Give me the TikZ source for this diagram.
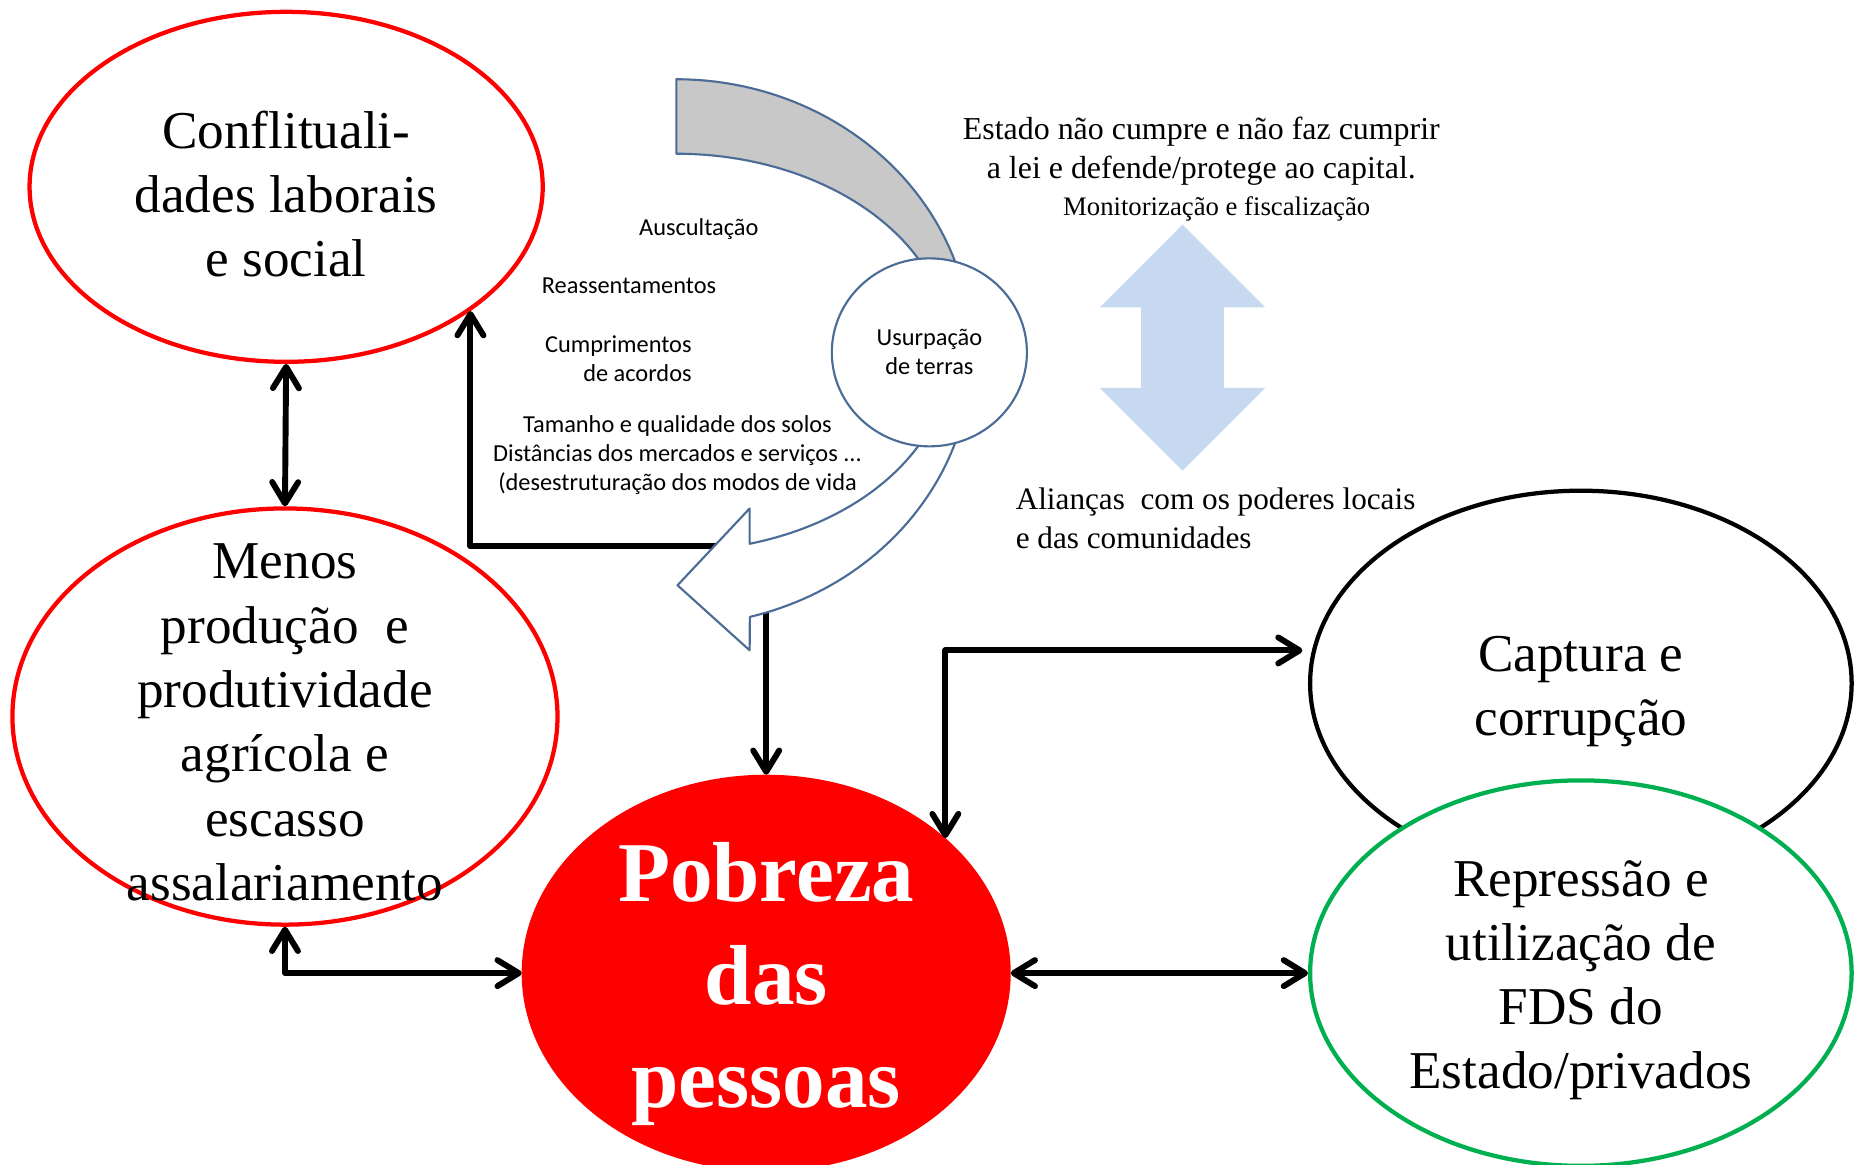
\documentclass[tikz,border=0pt]{standalone}
\usepackage{fontspec}
\setmainfont{Liberation Serif}
\newfontfamily\calibri{Carlito}
\usetikzlibrary{shapes.geometric,arrows.meta}
\definecolor{pptred}{HTML}{FF0000}
\definecolor{pptgreen}{HTML}{00B050}
\definecolor{bluegray}{HTML}{4A6C96}
\definecolor{graybody}{HTML}{C8C8C8}
\definecolor{lightblue}{HTML}{C6D9F1}
\begin{document}
\begin{tikzpicture}[x=0.5pt,y=-0.5pt,
  ell/.style={ellipse, line width=1.8pt, inner sep=0pt},
  bigtxt/.style={align=center, font=\fontsize{22.5}{27.2}\selectfont},
  smalltxt/.style={align=center, font=\calibri\fontsize{10.3}{12.3}\selectfont},
  serifmid/.style={align=center, font=\fontsize{13.5}{16.5}\selectfont},
  conn/.style={line width=2.5pt, black, line join=round},
  onehead/.style={conn, -{Straight Barb[length=9pt,width=11pt,round]}},
  twohead/.style={conn, {Straight Barb[length=9pt,width=11pt,round]}-{Straight Barb[length=9pt,width=11pt,round]}},
  bandline/.style={draw=bluegray, line width=0.9pt, line join=round}
]
\useasboundingbox (0,0) rectangle (1568,985);

% main ellipses
\node[ell, draw=pptred, minimum width=217pt, minimum height=148pt] (c1) at (242,158) {};
\node[bigtxt] (t1) at (242,164) {Conflituali-\\dades laborais\\e social};

\node[ell, draw=pptred, minimum width=230.5pt, minimum height=176pt] (c2) at (241,606) {};
\node[bigtxt] (t2) at (241,611) {Menos\\produção\ \ e\\produtividade\\agrícola e\\escasso\\assalariamento};

\node[ell, draw=pptred, fill=pptred, minimum width=205pt, minimum height=166pt] (pob) at (648,823) {};
\node[align=center, text=white, font=\bfseries\fontsize{36}{43.5}\selectfont] (tp) at (648,832) {Pobreza\\das\\pessoas};

\node[ell, draw=black, minimum width=229pt, minimum height=163pt] (cap) at (1337,578) {};
\node[bigtxt] (tc) at (1337,585) {Captura e\\corrupção};

\node[ell, draw=pptgreen, fill=white, minimum width=229pt, minimum height=163pt] (rep) at (1337,823) {};
\node[bigtxt] (tr) at (1337,829) {Repressão e\\utilização de\\FDS do\\Estado/privados};

% connectors
\coordinate (wa) at (620,462);
\coordinate (wb) at (648,505);
\draw[onehead] (wa) -| (c1.-34);
\draw[onehead] (wb) -- (pob.north);
\draw[twohead] (c1.south) -- (c2.north);
\draw[twohead] (c2.south) |- (pob.west);
\draw[twohead, shorten >=4pt] (pob.37) |- (cap.173);
\draw[twohead] (pob.east) -- (rep.west);

% gray curved band (upper part)
\path[bandline, fill=graybody]
  plot[domain=-90:-15, samples=40] ({572+250*cos(\x)},{298+231*sin(\x)})
  -- plot[domain=-15:-90, samples=40] ({572+232*cos(\x)},{298+168*sin(\x)})
  -- cycle;
% white curved arrow (lower part)
\path[bandline, fill=white]
  plot[domain=15:75.6, samples=40] ({572+250*cos(\x)},{298+231*sin(\x)})
  -- (634,550) -- (573,495) -- (634,430)
  -- plot[domain=74.5:15, samples=40] ({572+232*cos(\x)},{298+168*sin(\x)})
  -- cycle;

\node[ellipse, draw=bluegray, fill=white, line width=0.9pt, inner sep=0pt,
      minimum width=82.5pt, minimum height=79.5pt, smalltxt] (usu) at (786,298) {Usurpação\\de terras};

% small labels
\node[smalltxt] (l1) at (591,194) {Auscultação};
\node[smalltxt] (l2) at (532,242) {Reassentamentos};
\node[smalltxt, align=right, anchor=east] (l3) at (592,303) {Cumprimentos\\de acordos};
\node[smalltxt] (l4) at (573,385) {Tamanho e qualidade dos solos\\Distâncias dos mercados e serviços ...\\(desestruturação dos modos de vida};

% blue double arrow
\fill[lightblue] (1000,190) -- (1070,260) -- (1035,260) -- (1035,328) -- (1070,328)
  -- (1000,398) -- (930,328) -- (965,328) -- (965,260) -- (930,260) -- cycle;

% serif texts
\node[serifmid] (st1) at (1016,128) {Estado não cumpre e não faz cumprir\\a lei e defende/protege ao capital.};
\node[align=center, font=\fontsize{11.3}{13}\selectfont] (st2) at (1029,177) {Monitorização e fiscalização};
\node[align=left, anchor=west, font=\fontsize{13.2}{16.5}\selectfont] (st3) at (852,438) {Alianças\ \ com os poderes locais\\e das comunidades};
\end{tikzpicture}
\end{document}
